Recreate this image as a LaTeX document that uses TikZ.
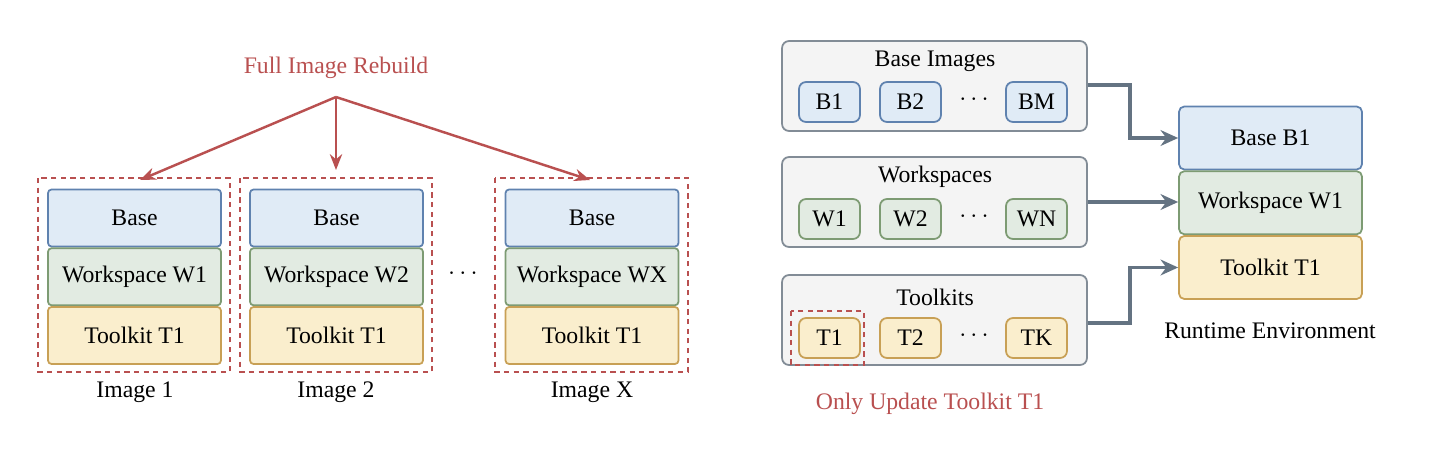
\documentclass[tikz,border=0pt]{standalone}
\usepackage{fontspec}
\setmainfont{Liberation Serif}
\usetikzlibrary{arrows.meta,positioning}
\definecolor{redline}{RGB}{185,80,80}
\definecolor{basefill}{RGB}{224,235,246}
\definecolor{basedraw}{RGB}{95,130,175}
\definecolor{wsfill}{RGB}{226,235,226}
\definecolor{wsdraw}{RGB}{125,155,115}
\definecolor{tkfill}{RGB}{250,238,205}
\definecolor{tkdraw}{RGB}{200,160,85}
\definecolor{panelfill}{RGB}{244,244,244}
\definecolor{paneldraw}{RGB}{130,140,150}
\definecolor{linkgray}{RGB}{100,115,130}
\tikzset{
  txt/.style = {font=\fontsize{13.5}{15}\selectfont},
  blk/.style = {txt, draw, line width=1pt, rounded corners=2pt, inner sep=0pt,
                minimum width=3.46cm, minimum height=1.14cm},
  base/.style = {blk, fill=basefill, draw=basedraw},
  ws/.style = {blk, fill=wsfill, draw=wsdraw},
  tk/.style = {blk, fill=tkfill, draw=tkdraw},
  item/.style = {minimum width=1.22cm, minimum height=0.8cm, rounded corners=4pt},
  rt/.style = {minimum width=3.66cm, minimum height=1.26cm, rounded corners=3pt},
  panel/.style = {draw=paneldraw, fill=panelfill, line width=1pt, rounded corners=4pt,
                   minimum width=6.1cm, minimum height=1.8cm, inner sep=0pt},
  dashbox/.style = {draw=redline, line width=1.2pt, dash pattern=on 3pt off 2.5pt},
  redarrow/.style = {draw=redline, line width=1.4pt, -{Stealth[length=9pt,width=7pt]}},
  link/.style = {draw=linkgray, line width=1.8pt, -{Stealth[length=10pt,width=9pt]}},
}
\begin{document}
\begin{tikzpicture}[x=0.02cm,y=-0.02cm]
\useasboundingbox (0,0) rectangle (1440,454);

% left: full rebuild
\node[txt, text=redline] (rebuild) at (336,68) {Full Image Rebuild};
\coordinate (fork) at (336,97);

\node[base] (base1) at (134.5,218) {Base};
\node[ws, below=0pt of base1] (ws1) {Workspace W1};
\node[tk, below=0pt of ws1] (tk1) {Toolkit T1};
\node[base] (base2) at (336.5,218) {Base};
\node[ws, below=0pt of base2] (ws2) {Workspace W2};
\node[tk, below=0pt of ws2] (tk2) {Toolkit T1};
\node[base] (basex) at (592,218) {Base};
\node[ws, below=0pt of basex] (wsx) {Workspace WX};
\node[tk, below=0pt of wsx] (tkx) {Toolkit T1};

\draw[dashbox] (38,178) rectangle (230,372);
\draw[dashbox] (240,178) rectangle (432,372);
\draw[dashbox] (495,178) rectangle (688,372);
\coordinate (img1) at (140,180);
\coordinate (img2) at (336,170);
\coordinate (imgx) at (590,180);
\draw[redarrow] (fork) -- (img1);
\draw[redarrow] (fork) -- (img2);
\draw[redarrow] (fork) -- (imgx);

\node[txt] (lab1) at (135,392) {Image 1};
\node[txt] (lab2) at (336,392) {Image 2};
\node[txt] (labx) at (592,392) {Image X};
\node[txt] (dotsl) at (463,274) {$\cdots$};

% right: panels
\node[panel] (pbase) at (934.5,86) {};
\node[panel] (pws) at (934.5,202) {};
\node[panel] (ptk) at (934.5,320) {};
\node[txt] at (935,61) {Base Images};
\node[txt] at (935,177) {Workspaces};
\node[txt] at (935,297) {Toolkits};

\node[base, item] (b1) at (829.5,102) {B1};
\node[base, item] (b2) at (910.5,102) {B2};
\node[txt] at (974,100) {$\cdots$};
\node[base, item] (bm) at (1036.5,102) {BM};
\node[ws, item] (w1) at (829.5,219) {W1};
\node[ws, item] (w2) at (910.5,219) {W2};
\node[txt] at (974,217) {$\cdots$};
\node[ws, item] (wn) at (1036.5,219) {WN};
\node[tk, item] (t1) at (829.5,338) {T1};
\node[tk, item] (t2) at (910.5,338) {T2};
\node[txt] at (974,336) {$\cdots$};
\node[tk, item] (tk) at (1036.5,338) {TK};
\draw[dashbox] (791,311) rectangle (864,365);
\node[txt, text=redline] (only) at (930,404) {Only Update Toolkit T1};

% runtime environment
\node[base, rt] (rtb) at (1270.5,138) {Base B1};
\node[ws, rt, below=0pt of rtb] (rtw) {Workspace W1};
\node[tk, rt, below=0pt of rtw] (rtt) {Toolkit T1};
\node[txt] (rtlab) at (1270,331) {Runtime Environment};

\draw[link] (pbase.east |- 0,85) -- (1130,85) |- (rtb.west);
\draw[link] (pws.east) -- (rtw.west |- pws.east);
\draw[link] (ptk.east |- 0,323) -- (1130,323) |- (rtt.west);
\end{tikzpicture}
\end{document}
